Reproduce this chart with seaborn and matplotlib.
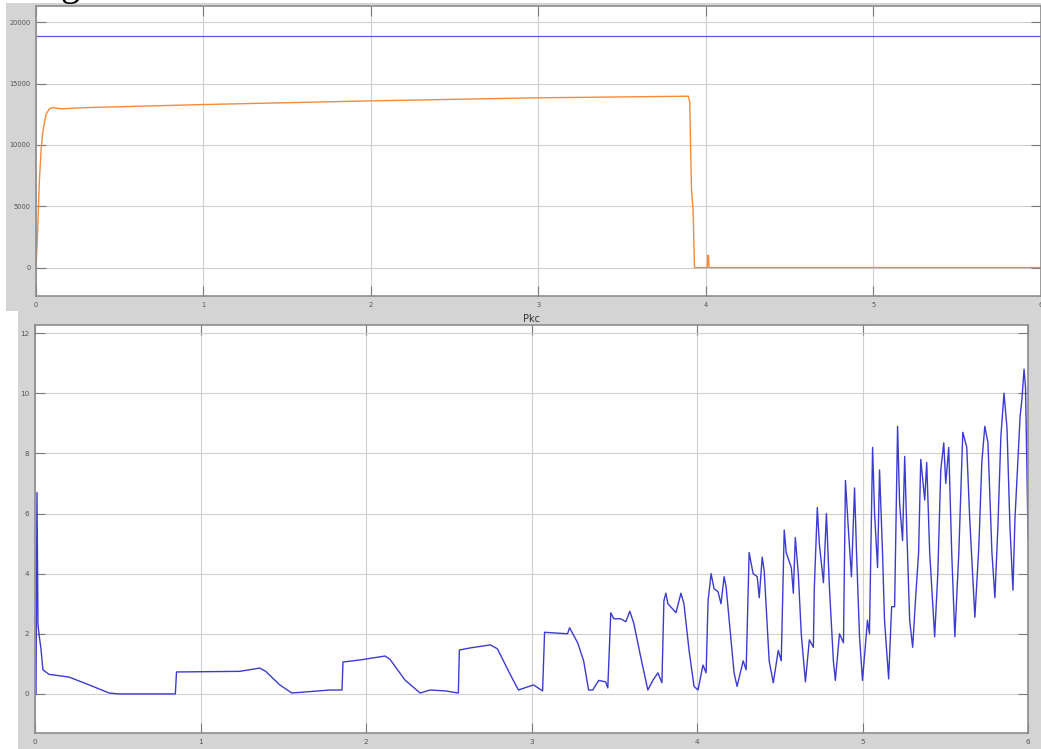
import numpy as np
import pandas as pd
import matplotlib
matplotlib.use("Agg")
import matplotlib.pyplot as plt
from matplotlib.patches import Rectangle
import seaborn as sns

# ---- upper scope: reference level and response -------------------------
ref_time = [0.0, 6.0]
ref_level = [18900, 18900]

speed_time = [0.0, 0.01, 0.02, 0.03, 0.04, 0.05, 0.06, 0.08, 0.10, 0.15, 0.30,
              1.0, 2.0, 3.0, 3.897, 3.905, 3.91, 3.915, 3.92, 3.925, 3.933,
              4.01, 4.013, 4.017, 4.02, 6.0]
speed_value = [0, 3000, 7000, 9500, 11000, 11800, 12500, 12950, 13050, 12950, 13050,
               13300, 13600, 13850, 13980, 13500, 9800, 6500, 5500, 4700, 0,
               0, 1000, 1000, 0, 0]

# ---- lower scope: Pkc ---------------------------------------------------
pkc_time = [0.000, 0.006, 0.012, 0.018, 0.024, 0.036, 0.048, 0.085, 0.206, 0.327,
            0.448, 0.509, 0.848, 0.855, 1.236, 1.358, 1.394, 1.479, 1.552, 1.782,
            1.855, 1.861, 1.964, 2.115, 2.145, 2.236, 2.327, 2.388, 2.479, 2.558,
            2.564, 2.630, 2.752, 2.794, 2.873, 2.921, 3.012, 3.067, 3.079, 3.218,
            3.230, 3.279, 3.315, 3.345, 3.370, 3.406, 3.448, 3.461, 3.479, 3.497,
            3.539, 3.570, 3.594, 3.618, 3.661, 3.703, 3.733, 3.764, 3.788, 3.800,
            3.812, 3.824, 3.873, 3.903, 3.921, 3.952, 3.982, 4.006, 4.036, 4.055,
            4.067, 4.085, 4.103, 4.127, 4.145, 4.164, 4.176, 4.224, 4.242, 4.279,
            4.297, 4.315, 4.339, 4.364, 4.376, 4.394, 4.406, 4.436, 4.461, 4.491,
            4.509, 4.527, 4.539, 4.570, 4.582, 4.594, 4.612, 4.630, 4.655, 4.679,
            4.703, 4.709, 4.727, 4.739, 4.764, 4.782, 4.800, 4.824, 4.836, 4.861,
            4.885, 4.897, 4.915, 4.933, 4.952, 4.964, 4.982, 5.000, 5.030, 5.042,
            5.061, 5.073, 5.091, 5.103, 5.121, 5.133, 5.158, 5.176, 5.194, 5.212,
            5.224, 5.242, 5.255, 5.267, 5.285, 5.303, 5.321, 5.339, 5.352, 5.376,
            5.388, 5.406, 5.436, 5.455, 5.473, 5.491, 5.503, 5.521, 5.539, 5.558,
            5.582, 5.606, 5.630, 5.648, 5.679, 5.703, 5.721, 5.739, 5.758, 5.782,
            5.800, 5.818, 5.836, 5.855, 5.873, 5.891, 5.909, 5.921, 5.945, 5.952,
            5.964, 5.976, 5.985, 5.994, 6.000]
pkc_value = [0.0, 0.0, 6.7, 2.3, 2.0, 1.5, 0.8, 0.65, 0.56, 0.3,
             0.03, 0.0, 0.0, 0.73, 0.75, 0.86, 0.75, 0.3, 0.03, 0.13,
             0.13, 1.06, 1.13, 1.26, 1.15, 0.46, 0.03, 0.13, 0.1, 0.03,
             1.46, 1.53, 1.63, 1.5, 0.63, 0.13, 0.3, 0.1, 2.05, 2.0,
             2.2, 1.7, 1.1, 0.13, 0.13, 0.45, 0.4, 0.2, 2.7, 2.5,
             2.5, 2.4, 2.75, 2.35, 1.2, 0.13, 0.45, 0.7, 0.37, 3.1,
             3.35, 3.0, 2.7, 3.35, 3.0, 1.45, 0.25, 0.13, 0.96, 0.7,
             3.1, 4.0, 3.5, 3.4, 3.0, 3.9, 3.55, 0.7, 0.25, 1.1,
             0.8, 4.7, 4.0, 3.9, 3.2, 4.55, 4.1, 1.1, 0.37, 1.45,
             1.1, 5.45, 4.7, 4.2, 3.35, 5.2, 4.0, 2.0, 0.4, 1.8,
             1.55, 3.55, 6.2, 5.0, 3.7, 6.0, 3.55, 1.1, 0.45, 2.0,
             1.7, 7.1, 5.45, 3.9, 6.85, 4.7, 1.9, 0.45, 2.45, 2.0,
             8.2, 6.0, 4.2, 7.45, 4.7, 2.45, 0.5, 2.9, 2.9, 8.9,
             6.35, 5.1, 7.9, 5.55, 2.45, 1.55, 3.2, 4.7, 7.8, 6.45,
             7.7, 4.7, 1.9, 4.0, 7.45, 8.35, 7.0, 8.2, 4.7, 1.9,
             4.7, 8.7, 8.2, 5.8, 2.55, 4.9, 7.7, 8.9, 8.35, 4.7,
             3.2, 5.55, 8.55, 10.0, 8.85, 5.55, 3.45, 5.8, 8.45, 9.2,
             9.85, 10.8, 10.2, 7.35, 5.2]

x_ticks = [0, 1, 2, 3, 4, 5, 6]
speed_yticks = [0, 5000, 10000, 15000, 20000]
pkc_yticks = [0, 2, 4, 6, 8, 10, 12]

sns.set_theme(style="whitegrid")
plt.rcParams["font.family"] = ["DejaVu Sans"]

W, H = 1041, 749
fig = plt.figure(figsize=(W / 100, H / 100), dpi=100, facecolor="white")

# grey window backgrounds behind the two scopes
panel_grey = "#d4d4d4"
bg = fig.add_axes([0, 0, 1, 1], zorder=-10)
bg.set_xlim(0, W)
bg.set_ylim(H, 0)
bg.axis("off")
bg.add_patch(Rectangle((6, 3), W - 6, 311 - 3, facecolor=panel_grey, edgecolor="none"))
bg.add_patch(Rectangle((18, 311), W - 18, H - 311, facecolor=panel_grey, edgecolor="none"))

# partial heading glyph from the page above the scopes
fig.text(60 / W, 1 + 5 / H, "g", fontsize=28, family="Liberation Serif",
         color="black", va="baseline", ha="left", zorder=5)


def pix_axes(left, top, right, bottom):
    return fig.add_axes([left / W, 1 - bottom / H, (right - left) / W, (bottom - top) / H])


def style_scope(ax, yticks, fs):
    ax.set_facecolor("white")
    ax.grid(True, color="#cfcfcf", linewidth=0.8)
    for s in ax.spines.values():
        s.set_color("#8c8c8c")
        s.set_linewidth(1.2)
        s.set_visible(True)
    ax.set_xticks(x_ticks)
    ax.set_yticks(yticks)
    ax.tick_params(axis="both", which="both", direction="in", length=7, width=0.8,
                   color="#7a7a7a", labelsize=fs, labelcolor="#555555",
                   top=True, right=True, left=True, bottom=True, pad=4)
    ax.set_xlabel("")
    ax.set_ylabel("")


# upper scope
ax1 = pix_axes(36, 6, 1040.5, 296)
sns.lineplot(x=ref_time, y=ref_level, ax=ax1, color="#5a5af0", linewidth=0.9,
             estimator=None, sort=False)
sns.lineplot(x=speed_time, y=speed_value, ax=ax1, color="#f58a3a", linewidth=1.0,
             estimator=None, sort=False)
ax1.set_xlim(0, 6)
ax1.set_ylim(-2320, 21340)
style_scope(ax1, speed_yticks, 4.8)

# lower scope
ax2 = pix_axes(35, 325, 1028, 733)
sns.lineplot(x=pkc_time, y=pkc_value, ax=ax2, color="#3b3bd2", linewidth=1.0,
             estimator=None, sort=False)
ax2.set_xlim(0, 6)
ax2.set_ylim(-1.3, 12.27)
style_scope(ax2, pkc_yticks, 5.2)
ax2.set_title("Pkc", fontsize=7, color="#333333", pad=2)

fig.savefig("out.png", dpi=100, facecolor="white")
